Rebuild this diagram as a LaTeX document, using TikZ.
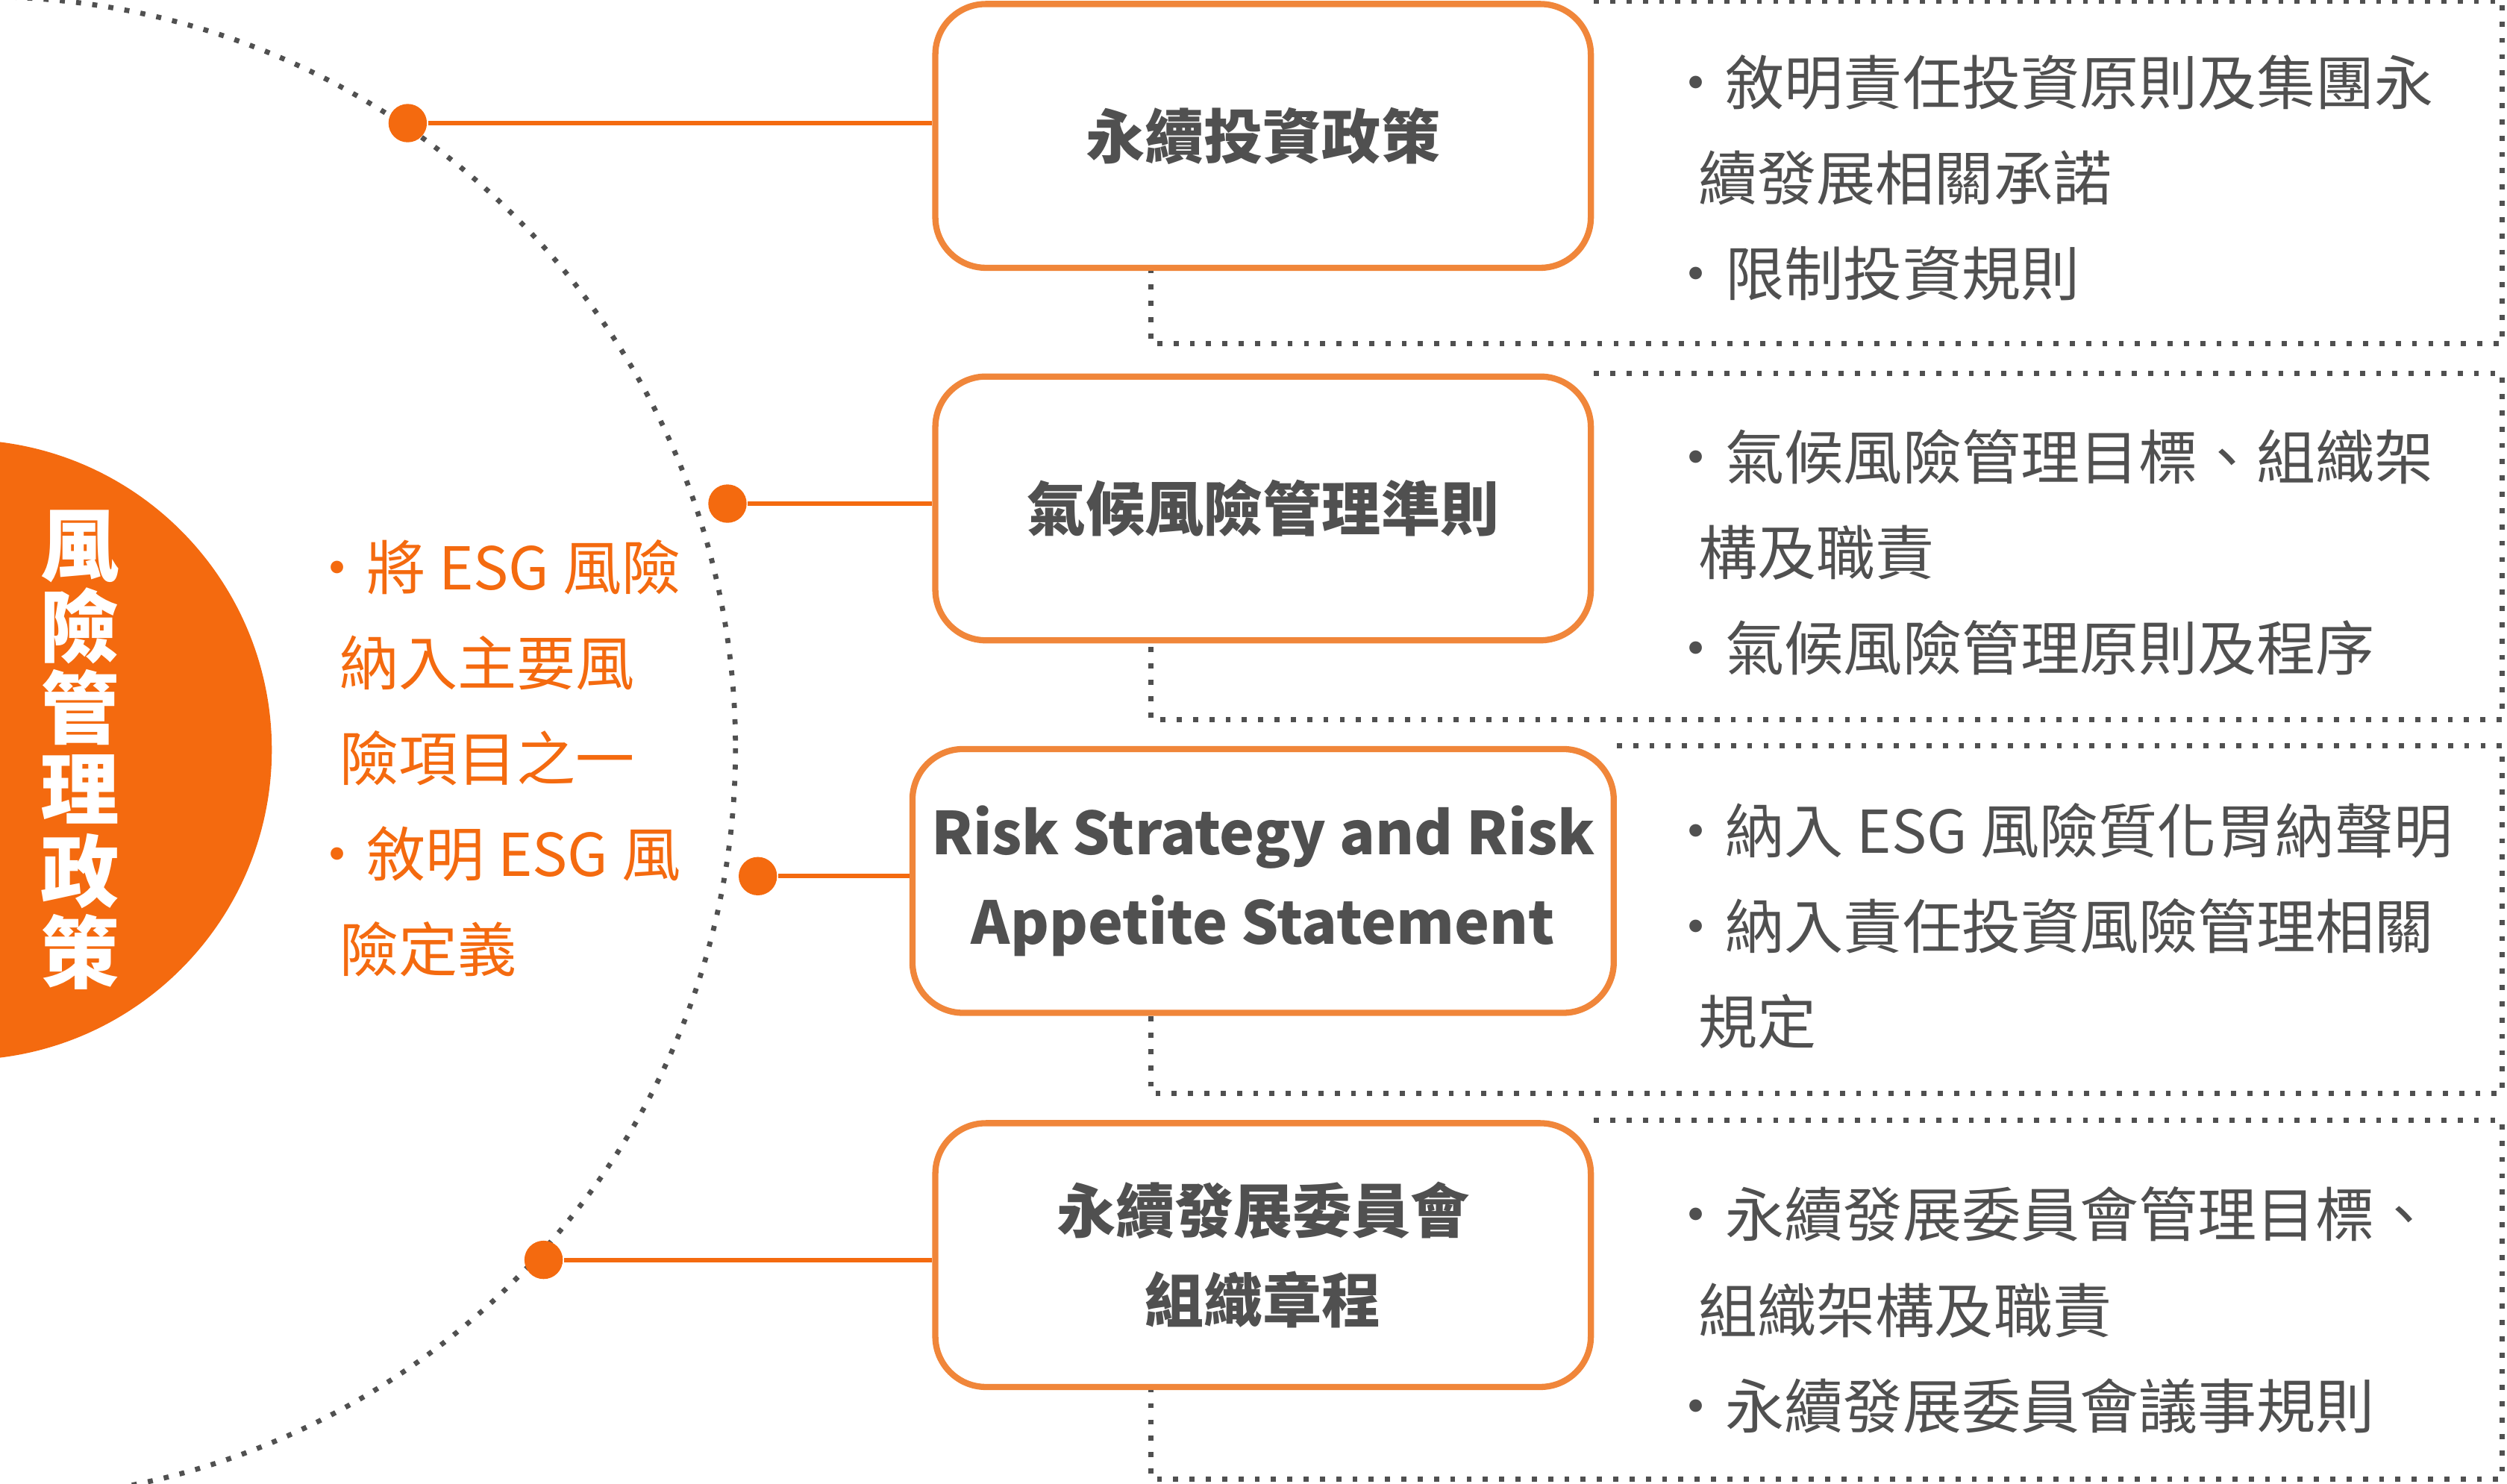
\documentclass[tikz,border=0pt]{standalone}
\usepackage{fontspec}
\setmainfont{Noto Sans CJK TC}
\usetikzlibrary{positioning}
\definecolor{riskorange}{HTML}{F46A0F}
\definecolor{boxorange}{HTML}{F0863A}
\definecolor{textgray}{HTML}{505050}
\tikzset{
  policybox/.style={draw=boxorange, line width=1.1pt, rounded corners=9pt, minimum width=4.1cm, minimum height=1.65cm, align=center, text=textgray, font=\fontsize{10.5pt}{16pt}\selectfont\bfseries},
  dotframe/.style={draw=textgray, line width=0.9pt, dotted},
  hub/.style={circle, fill=riskorange, inner sep=0pt, minimum size=0.24cm},
  link/.style={draw=riskorange, line width=0.8pt},
  itemtext/.style={anchor=north west, align=left, text=textgray, font=\fontsize{10.5pt}{17pt}\selectfont},
}
\begin{document}
\begin{tikzpicture}[x=0.1mm, y=-0.1mm]
    \useasboundingbox (0,0) rectangle (1568,928);
    % Outer dotted arc
    \begin{scope}
        \clip (0,0) rectangle (1568,928);
        \draw[dotframe] (-10,468) circle (470);
        \fill[riskorange] (-24,469) circle (194);
    \end{scope}
    % Vertical title
    \node[text=white, align=center, font=\fontsize{14pt}{14.5pt}\selectfont\bfseries] (title) at (50,469) {風\\險\\管\\理\\政\\策};
    % Orange bullets
    \node[anchor=north west, align=left, text=riskorange, font=\fontsize{10.5pt}{17pt}\selectfont] (esg) at (180,325)
        {・將 ESG 風險\\\hspace*{2mm}納入主要風\\\hspace*{2mm}險項目之一\\・敘明 ESG 風\\\hspace*{2mm}險定義};
    % Boxes
    \node[policybox] (invest) at (790,85) {永續投資政策};
    \node[policybox] (climate) at (790,318) {氣候風險管理準則};
    \node[policybox, font=\fontsize{10.5pt}{16pt}\selectfont\bfseries] (appetite) at (790,551) {Risk Strategy and Risk\\Appetite Statement};
    \node[policybox] (charter) at (790,785) {永續發展委員會\\組織章程};
    % Hubs on arc and links
    \node[hub] (h1) at (255,77) {};
    \node[hub] (h2) at (455,315) {};
    \node[hub] (h3) at (474,548) {};
    \node[hub] (h4) at (340,788) {};
    \draw[link] (h1) -- (h1 -| invest.west);
    \draw[link] (h2) -- (h2 -| climate.west);
    \draw[link] (h3) -- (h3 -| appetite.west);
    \draw[link] (h4) -- (h4 -| charter.west);
    % Dotted frames
    \foreach \b/\bot in {invest/215, climate/450, appetite/684, charter/925} {
        \draw[dotframe] (\b.north east) -- (1565,0 |- \b.north east) -- (1565,\bot) -- (720,\bot) -- (720,0 |- \b.south);
    }
    % Items
    \node[itemtext] (i1) at (1030,22) {・敘明責任投資原則及集團永\\\hspace*{2mm}續發展相關承諾\\・限制投資規則};
    \node[itemtext] (i2) at (1030,256) {・氣候風險管理目標、組織架\\\hspace*{2mm}構及職責\\・氣候風險管理原則及程序};
    \node[itemtext] (i3) at (1030,490) {・納入 ESG 風險質化胃納聲明\\・納入責任投資風險管理相關\\\hspace*{2mm}規定};
    \node[itemtext] (i4) at (1030,730) {・永續發展委員會管理目標、\\\hspace*{2mm}組織架構及職責\\・永續發展委員會議事規則};
\end{tikzpicture}
\end{document}
